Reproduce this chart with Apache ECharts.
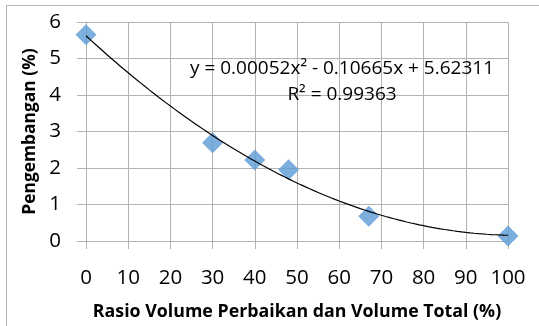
<!DOCTYPE html>
<html>
<head>
<meta charset="utf-8">
<script src="https://cdn.jsdelivr.net/npm/echarts@6/dist/echarts.min.js"></script>
<style>
  html, body { margin: 0; padding: 0; background: #fff; }
  #chart { width: 539px; height: 326px; }
</style>
</head>
<body>
<div id="chart"></div>
<script>
// Measured samples: repair-volume ratio (%) vs. swelling (%)
const ratio = [0, 30, 40, 48, 67, 100];
const swelling = [5.65, 2.69, 2.22, 1.95, 0.68, 0.14];

// Second-order polynomial trend line: a*x^2 + b*x + c
const trendCoef = [0.00052, -0.10665, 5.62311];
const trendRange = [0, 100];
const trendLabel = ['y = 0.00052x² - 0.10665x + 5.62311', 'R² = 0.99363'];

const xTicks = { min: 0, max: 100, interval: 10 };
const yTicks = { min: 0, max: 6, interval: 1 };

const points = ratio.map((x, i) => [x, swelling[i]]);
const curve = [];
for (let x = trendRange[0]; x <= trendRange[1]; x += 1) {
  curve.push([x, trendCoef[0] * x * x + trendCoef[1] * x + trendCoef[2]]);
}

const FONT = '"Open Sans", sans-serif';
const gridColor = '#b3b3b3';

const chart = echarts.init(document.getElementById('chart'), null, { renderer: 'canvas' });
chart.setOption({
  animation: false,
  backgroundColor: '#ffffff',
  grid: { left: 86, right: 31, top: 22, bottom: 80, containLabel: false },
  xAxis: {
    type: 'value',
    min: xTicks.min, max: xTicks.max, interval: xTicks.interval,
    name: 'Rasio Volume Perbaikan dan Volume Total (%)',
    nameLocation: 'middle',
    nameGap: 62,
    nameTextStyle: { fontFamily: FONT, fontWeight: 'bold', fontSize: 17.8, color: '#000' },
    axisLine: { show: true, lineStyle: { color: gridColor, width: 1 } },
    axisTick: { show: true, length: 8, lineStyle: { color: gridColor } },
    axisLabel: { fontFamily: FONT, fontSize: 20.5, color: '#000', margin: 27 },
    splitLine: { show: true, lineStyle: { color: gridColor, width: 1 } }
  },
  yAxis: {
    type: 'value',
    min: yTicks.min, max: yTicks.max, interval: yTicks.interval,
    name: 'Pengembangan (%)',
    nameLocation: 'middle',
    nameGap: 46,
    nameTextStyle: { fontFamily: FONT, fontWeight: 'bold', fontSize: 17.4, color: '#000' },
    axisLine: { show: true, lineStyle: { color: gridColor, width: 1 } },
    axisTick: { show: true, length: 9, lineStyle: { color: gridColor } },
    axisLabel: { fontFamily: FONT, fontSize: 20.5, color: '#000', margin: 25 },
    splitLine: { show: true, lineStyle: { color: gridColor, width: 1 } }
  },
  series: [
    {
      type: 'scatter',
      data: points,
      symbol: 'diamond',
      symbolSize: 21,
      itemStyle: { color: '#5b9bd5' },
      z: 2
    },
    {
      type: 'line',
      data: curve,
      showSymbol: false,
      symbol: 'none',
      lineStyle: { color: '#000', width: 1.2 },
      z: 3
    }
  ],
  graphic: [
    {
      type: 'rect',
      shape: { x: 6.5, y: 5.5, width: 600, height: 400 },
      style: { fill: null, stroke: '#b4b4b4', lineWidth: 1 },
      silent: true
    },
    {
      type: 'text',
      x: 342, y: 69,
      style: { text: trendLabel[0], fontFamily: FONT, fontSize: 19, fill: '#000', align: 'center', verticalAlign: 'middle' },
      z: 10
    },
    {
      type: 'text',
      x: 342, y: 95,
      style: { text: trendLabel[1], fontFamily: FONT, fontSize: 19, fill: '#000', align: 'center', verticalAlign: 'middle' },
      z: 10
    }
  ]
});
</script>
</body>
</html>
